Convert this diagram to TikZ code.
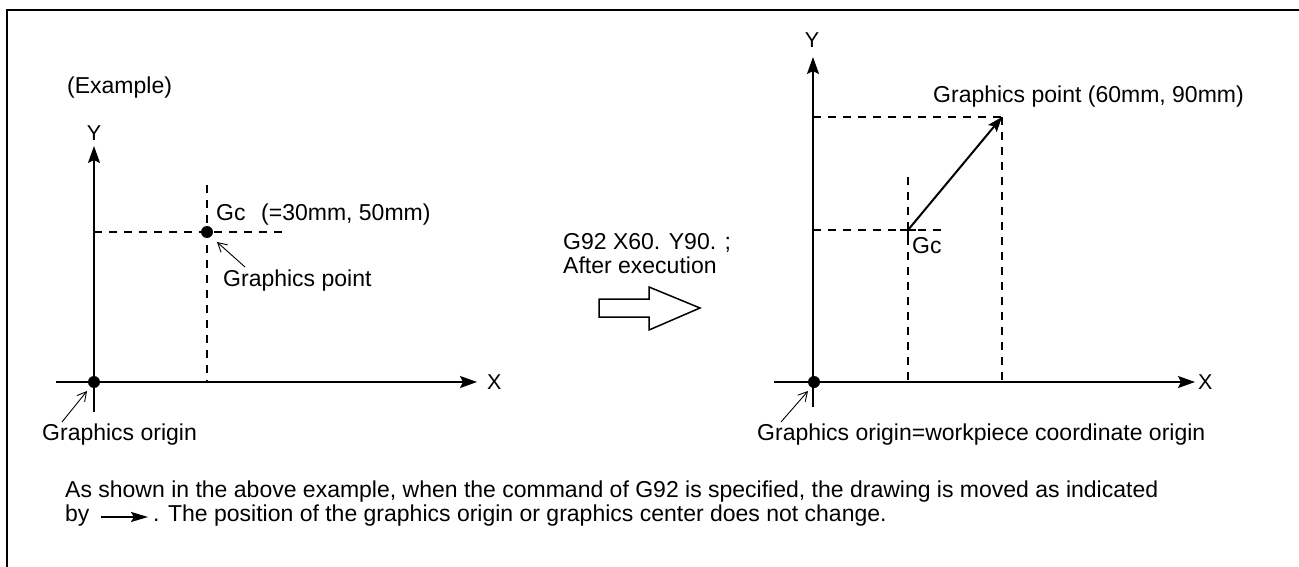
\documentclass[tikz,border=0pt]{standalone}
\usepackage{fontspec}
\setmainfont{Liberation Sans}
\usetikzlibrary{arrows.meta}
\begin{document}
\begin{tikzpicture}[x=1pt,y=-1pt,
  txt/.style={inner sep=0pt, anchor=base west, font=\fontsize{23}{24}\selectfont},
  axlbl/.style={inner sep=0pt, anchor=base, font=\fontsize{21.5}{24}\selectfont},
  axisline/.style={line width=2pt, -{Stealth[length=17pt,width=12pt,inset=3pt]}},
  moveline/.style={line width=2pt, -{Stealth[length=15pt,width=11pt,inset=3pt]}},
  guide/.style={line width=1.3pt, dash pattern=on 8pt off 7pt},
  pointer/.style={line width=0.9pt, -{Straight Barb[length=9pt,width=10pt]}},
  dotmark/.style={circle, fill, inner sep=0pt, minimum size=12pt},
]
\useasboundingbox (0,0) rectangle (1299,567);
% frame
\coordinate (fbl) at (7,570);
\coordinate (ftl) at (7,10);
\coordinate (ftr) at (1302,10);
\draw[line width=1.5pt] (fbl) -- (ftl) -- (ftr);

\node[txt] (example) at (67,94) {(Example)};

% ---------- left diagram ----------
\coordinate (lyb) at (94,412);
\coordinate (lyt) at (94,146);
\coordinate (lxl) at (56,382);
\coordinate (lxr) at (477,382);
\coordinate (lgh) at (283,232);
\coordinate (lgv) at (207,185);
\coordinate (lgx) at (207,382);
\coordinate (lgy) at (94,232);
\draw[guide] (lgy) -- (lgh);
\draw[guide] (lgv) -- (lgx);
\draw[axisline] (lyb) -- (lyt);
\draw[axisline] (lxl) -- (lxr);
\node[axlbl] (lY) at (94,141) {Y};
\node[axlbl, anchor=base west] (lX) at (487,389) {X};
\node[dotmark] (lo) at (94,382) {};
\node[dotmark] (lgc) at (207,232) {};
\node[txt] (lgclbl) at (216,220) {Gc};
\node[txt] (lgcval) at (261,220) {(=30mm, 50mm)};
\node[txt] (lgp) at (223,286) {Graphics point};
\coordinate (lgps) at (245,267);
\coordinate (lgpe) at (217,242);
\draw[pointer] (lgps) -- (lgpe);
\coordinate (lops) at (62,422);
\coordinate (lope) at (87,391);
\draw[pointer] (lops) -- (lope);
\node[txt] (lolbl) at (42,440) {Graphics origin};

% ---------- middle ----------
\node[txt] (cmd1) at (563,249) {G92 X60. Y90. ;};
\node[txt] (cmd2) at (563,273) {After execution};
\draw[line width=1.5pt, line join=miter]
  (599,299) -- (649,299) -- (649,287) -- (700,308) -- (649,330) -- (649,317) -- (599,317) -- cycle;

% ---------- right diagram ----------
\coordinate (ryb) at (813,407);
\coordinate (ryt) at (813,57);
\coordinate (rxl) at (774,382);
\coordinate (rxr) at (1195,382);
\coordinate (rp) at (1002,117);
\coordinate (rpx) at (1002,382);
\coordinate (rpy) at (813,117);
\coordinate (rgc) at (908,230);
\coordinate (rgv) at (908,177);
\coordinate (rgx) at (908,382);
\coordinate (rgy) at (813,230);
\coordinate (rgh) at (942,230);
\draw[guide] (rpy) -- (rp);
\draw[guide] (rp) -- (rpx);
\draw[guide] (rgv) -- (rgx);
\draw[guide] (rgy) -- (rgh);
\draw[line width=1.5pt] ([xshift=-8pt]rgc) -- ([xshift=8pt]rgc);
\draw[line width=1.5pt] ([yshift=-8pt]rgc) -- ([yshift=8pt]rgc);
\draw[moveline] (rgc) -- (rp);
\draw[axisline] (ryb) -- (ryt);
\draw[axisline] (rxl) -- (rxr);
\node[axlbl] (rY) at (812,48) {Y};
\node[axlbl, anchor=base west] (rX) at (1198,389) {X};
\node[dotmark] (ro) at (814,382) {};
\node[txt] (rgclbl) at (912,253) {Gc};
\node[txt] (rgp) at (933,103) {Graphics point (60mm, 90mm)};
\coordinate (rops) at (781,422);
\coordinate (rope) at (808,391);
\draw[pointer] (rops) -- (rope);
\node[txt] (rolbl) at (757,440) {Graphics origin=workpiece coordinate origin};

% ---------- note ----------
\node[txt] (note1) at (65,497) {As shown in the above example, when the command of G92 is specified, the drawing is moved as indicated};
\node[txt] (note2a) at (65,521) {by};
\coordinate (nas) at (101,517);
\coordinate (nae) at (148,517);
\draw[line width=2pt, -{Stealth[length=17pt,width=10pt,inset=3pt]}] (nas) -- (nae);
\node[txt] (note2b) at (153,521) {. The position of the graphics origin or graphics center does not change.};
\end{tikzpicture}
\end{document}
